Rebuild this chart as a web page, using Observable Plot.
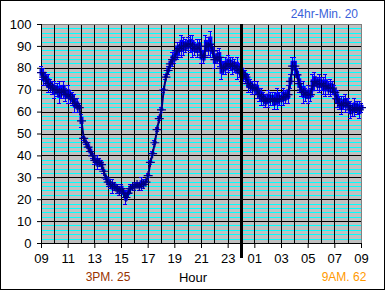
<!DOCTYPE html>
<html><head><meta charset="utf-8">
<script src="https://cdn.jsdelivr.net/npm/d3@7"></script>
<script src="https://cdn.jsdelivr.net/npm/@observablehq/plot@0.6"></script>
<style>
body{margin:0;background:#fff;}
#wrap{position:relative;width:385px;height:290px;overflow:hidden;font-family:"Liberation Sans",Arial,sans-serif;background:#fff}
#frame{position:absolute;left:0;top:0;width:385px;height:290px;box-sizing:border-box;border:1px solid #000;pointer-events:none}
.ann{position:absolute;white-space:nowrap;line-height:1}
</style></head><body>
<div id="wrap"><div id="frame"></div></div>
<script>
// Readings every 10 minutes, 09:00 -> 09:00 next day
const values = [
  78,76,75,73,72,71,
  70,70,69,69,70,68,
  68,67,66,64,63,62,
  56,48,46,44,42,40,
  38,37,37,36,33,30,
  28,27,26,26,25,24,
  25,23,21,23,25,26,
  26,27,26,27,27,28,
  31,37,41,46,52,57,
  61,70,76,79,82,84,
  85,88,89,90,90,90,
  91,91,90,89,89,90,
  86,85,90,90,91,88,
  84,85,85,80,80,81,
  82,82,81,81,80,79,
  78,77,76,73,72,71,
  71,70,68,67,66,65,
  66,66,66,65,66,66,
  66,67,67,68,74,81,
  81,77,73,70,69,68,
  68,68,72,74,73,73,
  73,72,72,71,71,71,
  69,66,64,63,64,64,
  63,61,61,62,62,61,
  62
];
// half-range of the high/low error bars
const errors = [
  3,4,3,4,3,3,
  4,3,5,3,4,3,
  4,3,3,4,3,2,
  3,1,1,2,2,1,
  2,3,2,2,1,1,
  2,2,3,2,2,2,
  2,2,3,2,2,1,
  2,1,2,3,2,1,
  1,1,1,1,1,1,
  1,1,1,2,2,3,
  3,4,3,5,4,3,
  3,4,5,3,4,3,
  4,3,5,4,6,3,
  4,3,4,5,3,4,
  4,3,4,3,5,3,
  4,3,3,4,3,3,
  3,4,3,4,3,3,
  4,3,3,4,5,3,
  3,4,3,4,3,4,
  4,3,4,3,5,3,
  4,3,5,4,3,4,
  3,4,5,3,4,3,
  3,4,3,4,3,4,
  3,4,3,4,3,4,
  2
];
const xTicks = [0,2,4,6,8,10,12,14,16,18,20,22,24];
const xLabels = ["09","11","13","15","17","19","21","23","01","03","05","07","09"];
const yTicks = [0,10,20,30,40,50,60,70,80,90,100];
const midnight = 15;
const xTitle = "Hour";
const minNote = "24hr-Min. 20";
const pmNote = "3PM. 25";
const amNote = "9AM. 62";

const data = values.map((v, i) => ({t: i / 6, v, e: errors[i]}));
const cyan = d3.range(0, 101, 2).filter(d => d % 10 !== 0);
const hours = d3.range(0, 25, 1);
const crisp = {shapeRendering: "crispEdges"};

const chart = Plot.plot({
  width: 385, height: 290,
  marginLeft: 41, marginRight: 24, marginTop: 24, marginBottom: 47,
  style: {fontFamily: '"Liberation Sans", Arial, sans-serif', fontSize: "12px", background: "transparent", color: "#000"},
  x: {domain: [0, 24]},
  y: {domain: [0, 100]},
  marks: [
    Plot.frame({fill: "#c0c0c0", stroke: null}),
    Plot.ruleY(cyan, {stroke: "#00ffff", strokeWidth: 1, ...crisp}),
    Plot.ruleY(yTicks, {stroke: "#000", strokeWidth: 1, ...crisp}),
    Plot.ruleX(hours, {stroke: "#000", strokeWidth: 1, ...crisp}),
    Plot.ruleY([100], {stroke: "#808080", ...crisp}),
    Plot.ruleX([24], {stroke: "#808080", ...crisp}),
    Plot.ruleX([0], {stroke: "#000", ...crisp}),
    Plot.ruleY([0], {stroke: "#000", ...crisp}),
    Plot.ruleX(data, {x: "t", y1: d => d.v - d.e, y2: d => d.v + d.e, stroke: "#0000ff", strokeWidth: 1, ...crisp}),
    Plot.ruleY(data, {y: d => d.v + d.e, x1: d => d.t - 0.15, x2: d => d.t + 0.15, stroke: "#0000ff", strokeWidth: 1, ...crisp}),
    Plot.ruleY(data, {y: d => d.v - d.e, x1: d => d.t - 0.15, x2: d => d.t + 0.15, stroke: "#0000ff", strokeWidth: 1, ...crisp}),
    Plot.ruleX(data, {x: "t", y1: d => d.v - d.e * 0.55, y2: d => d.v + d.e * 0.55, stroke: "#0000ff", strokeWidth: 4}),
    Plot.line(data, {x: "t", y: "v", stroke: "#000080", strokeWidth: 2}),
    Plot.dot(data, {x: "t", y: "v", symbol: "plus", r: 3, stroke: "#000080", strokeWidth: 1.2}),
    Plot.ruleX([midnight], {y1: 100, y2: -7, stroke: "#000", strokeWidth: 3, ...crisp}),
    Plot.axisY({ticks: yTicks, tickSize: 4, tickPadding: 6, label: null, fontSize: 13}),
    Plot.axisX({ticks: xTicks, tickFormat: (d, i) => xLabels[i], tickSize: 5, tickPadding: 5, label: null, fontSize: 13})
  ]
});
const wrap = document.getElementById("wrap");
chart.style.position = "absolute";
chart.style.left = "0px";
chart.style.top = "0px";
wrap.insertBefore(chart, wrap.firstChild);

function ann(text, x, y, color, size, anchor) {
  const d = document.createElement("div");
  d.className = "ann";
  d.textContent = text;
  d.style.color = color;
  d.style.fontSize = size + "px";
  d.style.top = (y - size / 2) + "px";
  d.style.left = x + "px";
  if (anchor === "middle") d.style.transform = "translateX(-50%)";
  if (anchor === "end") d.style.transform = "translateX(-100%)";
  wrap.appendChild(d);
}
ann(minNote, 358, 14, "#3a5fd9", 12, "end");
ann(pmNote, 108, 277, "#993300", 12, "middle");
ann(xTitle, 193, 277, "#000", 13, "middle");
ann(amNote, 344, 277, "#ff9900", 12, "middle");
</script>
</body></html>
